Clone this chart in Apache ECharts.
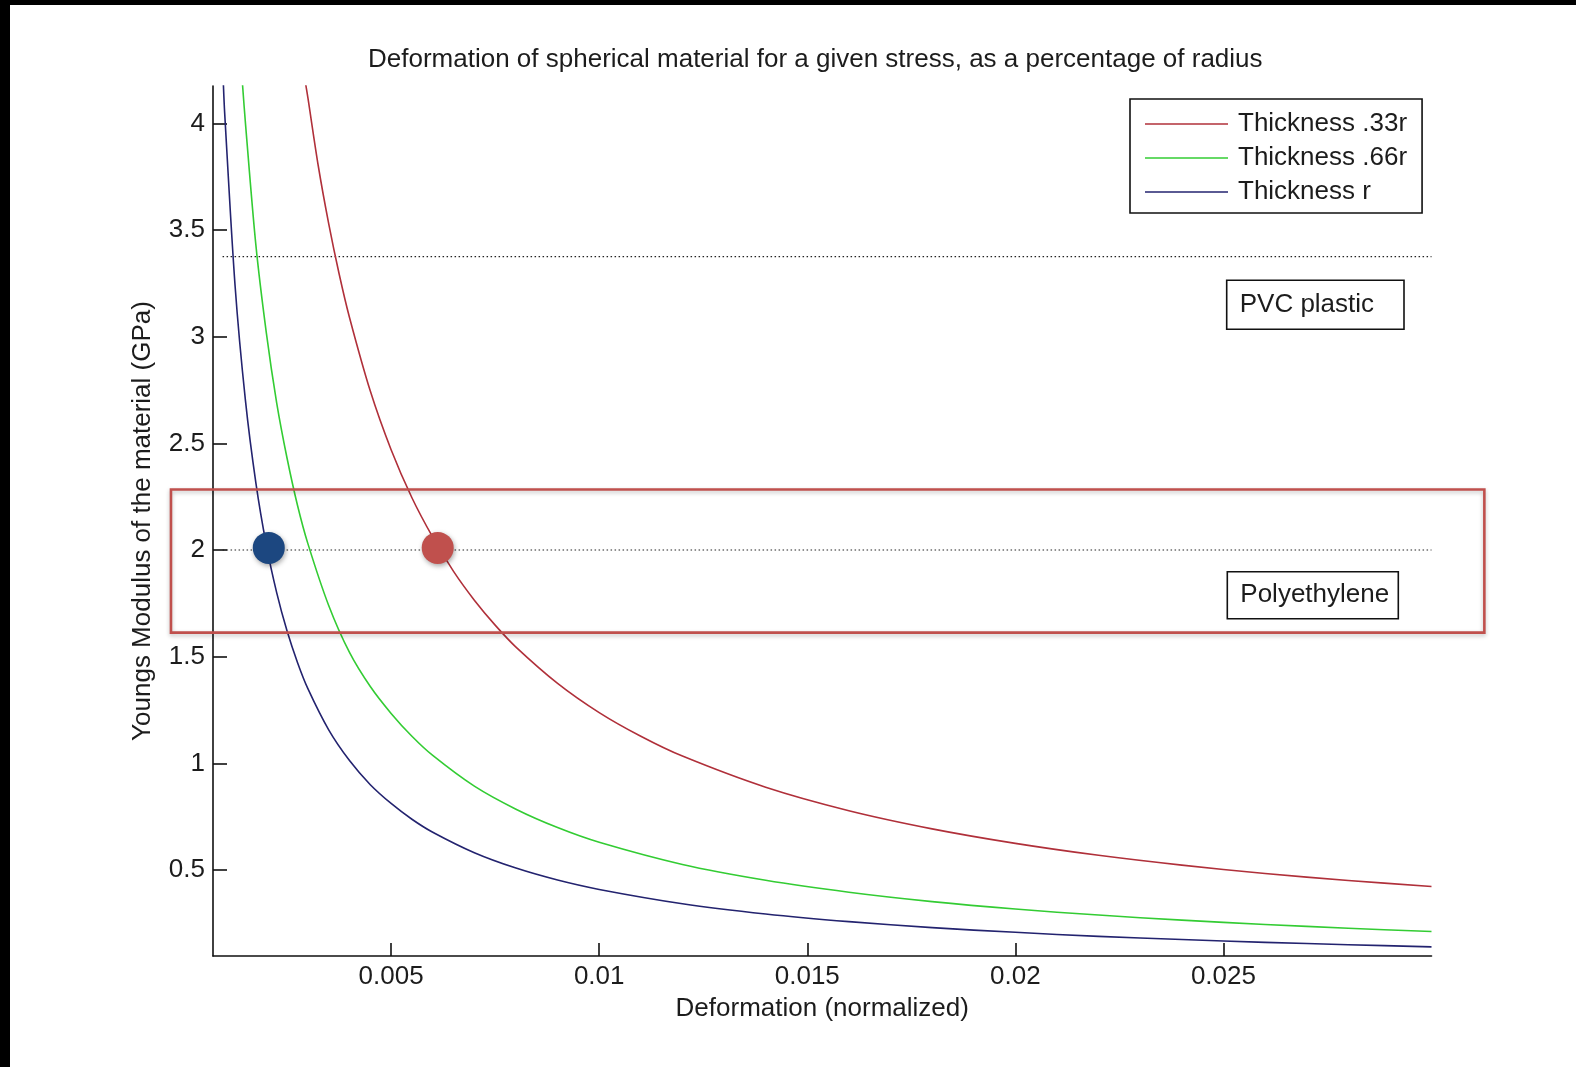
<!DOCTYPE html>
<html>
<head>
<meta charset="utf-8">
<script src="https://cdn.jsdelivr.net/npm/echarts@6/dist/echarts.min.js"></script>
<style>
html,body{margin:0;padding:0;background:#fff;}
#chart{width:1576px;height:1067px;}
</style>
</head>
<body>
<div id="chart"></div>
<script>
// ---- data ----
const titleText = 'Deformation of spherical material for a given stress, as a percentage of radius';
const xAxisName = 'Deformation (normalized)';
const yAxisName = 'Youngs Modulus of the material (GPa)';

const xTicks = [0.005, 0.01, 0.015, 0.02, 0.025];
const xTickLabels = ['0.005', '0.01', '0.015', '0.02', '0.025'];
const yTicks = [0.5, 1, 1.5, 2, 2.5, 3, 3.5, 4];
const yTickLabels = ['0.5', '1', '1.5', '2', '2.5', '3', '3.5', '4'];

const seriesNames = ['Thickness .33r', 'Thickness .66r', 'Thickness r'];

const redX = [0.00295, 0.003, 0.00325, 0.0035, 0.00375, 0.004, 0.0045, 0.005, 0.0055, 0.006, 0.0065, 0.007, 0.0075, 0.008, 0.009, 0.01, 0.011, 0.012, 0.014, 0.016, 0.018, 0.02, 0.022, 0.024, 0.026, 0.028, 0.03];
const redY = [4.18, 4.12, 3.80, 3.53, 3.295, 3.09, 2.745, 2.47, 2.245, 2.06, 1.90, 1.765, 1.648, 1.545, 1.375, 1.238, 1.127, 1.034, 0.888, 0.778, 0.693, 0.625, 0.569, 0.523, 0.484, 0.451, 0.423];

const greenX = [0.00143, 0.0015, 0.00175, 0.002, 0.00225, 0.0025, 0.00275, 0.003, 0.0035, 0.004, 0.0045, 0.005, 0.0055, 0.006, 0.007, 0.008, 0.009, 0.01, 0.012, 0.014, 0.016, 0.018, 0.02, 0.022, 0.024, 0.026, 0.028, 0.03];
const greenY = [4.18, 4.0, 3.43, 3.02, 2.69, 2.43, 2.21, 2.03, 1.74, 1.52, 1.36, 1.234, 1.127, 1.037, 0.893, 0.785, 0.699, 0.630, 0.526, 0.452, 0.396, 0.352, 0.317, 0.289, 0.265, 0.245, 0.227, 0.212];

const blueX = [0.00097, 0.001, 0.00125, 0.0015, 0.00175, 0.002, 0.00225, 0.0025, 0.00275, 0.003, 0.0035, 0.004, 0.0045, 0.005, 0.0055, 0.006, 0.007, 0.008, 0.009, 0.01, 0.012, 0.014, 0.016, 0.018, 0.02, 0.022, 0.024, 0.026, 0.028, 0.03];
const blueY = [4.18, 4.05, 3.24, 2.70, 2.315, 2.025, 1.80, 1.62, 1.473, 1.35, 1.157, 1.013, 0.900, 0.812, 0.738, 0.677, 0.581, 0.509, 0.453, 0.409, 0.342, 0.294, 0.258, 0.230, 0.208, 0.189, 0.174, 0.161, 0.150, 0.140];

const refLevelNames = ['PVC plastic', 'Polyethylene'];
const refLevelY = [3.375, 2.0];
const refLineX = [0.00095, 0.03];

const markerX = [0.00206, 0.00612];
const markerY = [2.01, 2.01];

const xMin = 0.00072, xMax = 0.03;
const yMin = 0.097, yMax = 4.175;

// ---- chart ----
const FONT = "'Liberation Sans', Arial, Helvetica, sans-serif";
const TXT = '#1c1c1c';
const lineColors = ['#b0303a', '#33cc33', '#23236f'];
const pair = (xs, ys) => xs.map((x, i) => [x, ys[i]]);

const chart = echarts.init(document.getElementById('chart'), null, {renderer: 'canvas'});

const lineSeries = [
  {name: seriesNames[0], data: pair(redX, redY), color: lineColors[0]},
  {name: seriesNames[1], data: pair(greenX, greenY), color: lineColors[1]},
  {name: seriesNames[2], data: pair(blueX, blueY), color: lineColors[2]}
].map(s => ({
  name: s.name, type: 'line', data: s.data, smooth: 0.3, symbol: 'none',
  clip: true, z: 3,
  itemStyle: {color: s.color},
  lineStyle: {color: s.color, width: 1.6, join: 'round'}
}));

const refSeries = refLevelY.map((y, i) => ({
  name: refLevelNames[i], type: 'line', symbol: 'none', z: 2,
  data: refLineX.map(x => [x, y]),
  lineStyle: {color: '#222', width: 1.2, type: [1.5, 2.5]}
}));

const markerColors = ['#1c4780', '#c0504d'];
const markerSeries = {
  type: 'scatter', name: 'markers', symbolSize: 32, z: 6, clip: false,
  data: markerX.map((x, i) => ({value: [x, markerY[i]], itemStyle: {color: markerColors[i], opacity: 1}})),
  itemStyle: {opacity: 1, shadowBlur: 5, shadowColor: 'rgba(0,0,0,0.35)', shadowOffsetX: 1, shadowOffsetY: 2}
};

function labelBox(x, y, w, h, text) {
  return {
    type: 'group', z: 20,
    children: [
      {type: 'rect', shape: {x: x, y: y, width: w, height: h},
       style: {fill: '#fff', stroke: '#111', lineWidth: 1.6}},
      {type: 'text', x: x + 13, y: y + h / 2,
       style: {text: text, font: '26px ' + FONT, fill: TXT, verticalAlign: 'middle'}}
    ]
  };
}

const option = {
  backgroundColor: '#fff',
  animation: false,
  textStyle: {fontFamily: FONT, color: TXT},
  title: {
    text: titleText, left: 368, top: 47, padding: 0,
    textStyle: {fontFamily: FONT, fontSize: 26, fontWeight: 'normal', color: TXT}
  },
  legend: {
    data: seriesNames.map(n => ({name: n, icon: 'rect'})),
    orient: 'vertical', left: 1130, top: 99,
    itemWidth: 83, itemHeight: 1.6, itemGap: 8,
    padding: [12, 15, 8, 15],
    borderColor: '#111', borderWidth: 1.6, borderRadius: 0,
    backgroundColor: '#fff', z: 10,
    textStyle: {fontFamily: FONT, fontSize: 26, color: TXT, lineHeight: 26, padding: [0, 0, 0, 5]}
  },
  grid: {left: 213, top: 86, width: 1218.5, height: 870, containLabel: false},
  xAxis: {
    type: 'value', min: xMin, max: xMax,
    name: xAxisName, nameLocation: 'middle', nameGap: 40,
    nameTextStyle: {fontFamily: FONT, fontSize: 26, color: TXT, verticalAlign: 'top'},
    axisLine: {show: true, onZero: false, lineStyle: {color: '#111', width: 1.6}},
    axisTick: {show: true, inside: true, length: 13, customValues: xTicks, lineStyle: {color: '#111', width: 1.6}},
    axisLabel: {show: true, margin: 8, fontFamily: FONT, fontSize: 26, color: TXT, customValues: xTicks,
      formatter: v => { const i = xTicks.findIndex(t => Math.abs(t - v) < 1e-9); return i >= 0 ? xTickLabels[i] : ''; }},
    splitLine: {show: false}
  },
  yAxis: {
    type: 'value', min: yMin, max: yMax,
    name: yAxisName, nameLocation: 'middle', nameGap: 57, nameRotate: 90,
    nameTextStyle: {fontFamily: FONT, fontSize: 26, color: TXT},
    axisLine: {show: true, onZero: false, lineStyle: {color: '#111', width: 1.6}},
    axisTick: {show: true, inside: true, length: 14, customValues: yTicks, lineStyle: {color: '#111', width: 1.6}},
    axisLabel: {show: true, margin: 8, fontFamily: FONT, fontSize: 26, color: TXT, customValues: yTicks,
      formatter: v => { const i = yTicks.findIndex(t => Math.abs(t - v) < 1e-9); return i >= 0 ? yTickLabels[i] : ''; }},
    splitLine: {show: false}
  },
  series: [...lineSeries, ...refSeries, markerSeries]
};

chart.setOption(option);

// annotation boxes placed from data coordinates
const pvcTop = chart.convertToPixel({gridIndex: 0}, [0.02995, refLevelY[0]]);
const peTop = chart.convertToPixel({gridIndex: 0}, [0.02995, refLevelY[1]]);
const rTL = chart.convertToPixel({gridIndex: 0}, [-0.00029, 2.284]);
const rBR = chart.convertToPixel({gridIndex: 0}, [0.03127, 1.613]);

chart.setOption({
  graphic: [
    {type: 'rect', z: 1, silent: true, shape: {x: 0, y: 0, width: 1576, height: 5}, style: {fill: '#000'}},
    {type: 'rect', z: 1, silent: true, shape: {x: 0, y: 0, width: 10, height: 1067}, style: {fill: '#000'}},
    labelBox(1226.7, pvcTop[1] + 23.6, 177.3, 49, refLevelNames[0]),
    labelBox(1227.3, peTop[1] + 21.7, 171, 47, refLevelNames[1]),
    {type: 'rect', z: 30, silent: true,
     shape: {x: rTL[0], y: rTL[1], width: rBR[0] - rTL[0], height: rBR[1] - rTL[1]},
     style: {fill: 'none', stroke: '#c0504d', lineWidth: 2.6, shadowBlur: 4, shadowColor: 'rgba(0,0,0,0.25)', shadowOffsetY: 2}}
  ]
});
</script>
</body>
</html>
